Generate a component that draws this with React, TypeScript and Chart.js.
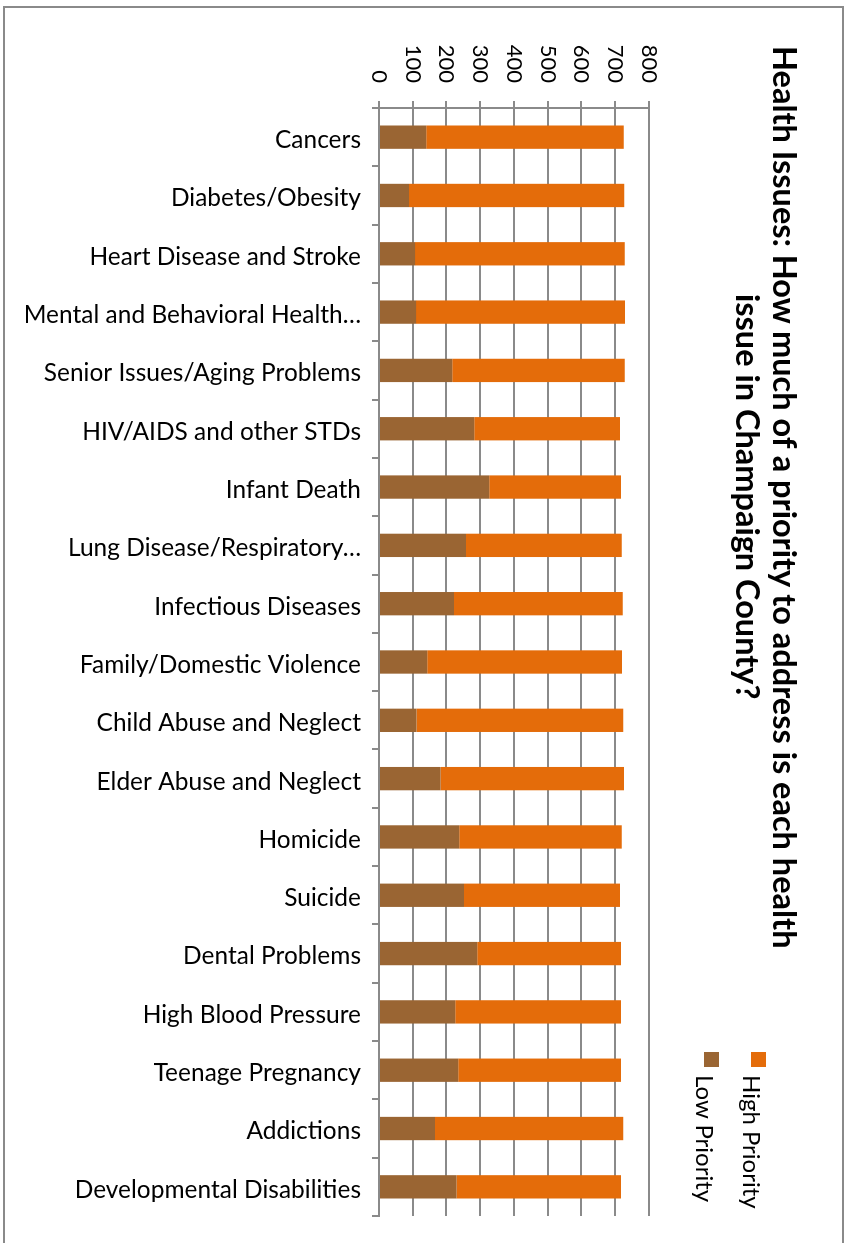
import React, { useEffect, useRef } from "react";
import { Chart, registerables } from "chart.js";

Chart.register(...registerables);

// Survey answers per health issue (number of respondents)
const categories = [
  "Cancers",
  "Diabetes/Obesity",
  "Heart Disease and Stroke",
  "Mental and Behavioral Health…",
  "Senior Issues/Aging Problems",
  "HIV/AIDS and other STDs",
  "Infant Death",
  "Lung Disease/Respiratory…",
  "Infectious Diseases",
  "Family/Domestic Violence",
  "Child Abuse and Neglect",
  "Elder Abuse and Neglect",
  "Homicide",
  "Suicide",
  "Dental Problems",
  "High Blood Pressure",
  "Teenage Pregnancy",
  "Addictions",
  "Developmental Disabilities",
];

const lowPriority = [140, 89, 107, 110, 217, 282, 327, 258, 222, 143, 111, 182, 238, 252, 291, 226, 235, 166, 230];
const highPriority = [585, 638, 621, 619, 511, 432, 390, 461, 500, 577, 613, 544, 481, 462, 426, 491, 482, 558, 487];

const seriesNames = ["Low Priority", "High Priority"];
const seriesColors = ["#9A6533", "#E46C0A"];

const axisMin = 0;
const axisMax = 800;
const axisStep = 100;

const titleLines = [
  "Health Issues: How much of a priority to address is each health",
  "issue in Champaign County?",
];

const FONT = "Lato, 'Open Sans', sans-serif";
const GRID = "#8a8a8a";

// The chart is laid out as a column chart on a landscape canvas and then
// turned a quarter turn clockwise to fill the portrait page.
const PAGE_W = 856;
const PAGE_H = 1243;

export default function App() {
  const canvasRef = useRef<HTMLCanvasElement | null>(null);

  useEffect(() => {
    const canvas = canvasRef.current;
    if (!canvas) return;
    const chart = new Chart(canvas, {
      type: "bar",
      data: {
        labels: categories,
        datasets: [
          {
            label: seriesNames[0],
            data: lowPriority,
            backgroundColor: seriesColors[0],
            barPercentage: 0.4,
            categoryPercentage: 1,
          },
          {
            label: seriesNames[1],
            data: highPriority,
            backgroundColor: seriesColors[1],
            barPercentage: 0.4,
            categoryPercentage: 1,
          },
        ],
      },
      options: {
        animation: false,
        responsive: false,
        maintainAspectRatio: false,
        devicePixelRatio: 1,
        layout: { padding: { top: 207, right: 27, bottom: 0, left: 0 } },
        plugins: {
          legend: { display: false },
          title: { display: false },
          tooltip: { enabled: false },
        },
        scales: {
          x: {
            stacked: true,
            grid: {
              display: true,
              drawOnChartArea: false,
              drawTicks: true,
              tickLength: 7,
              color: GRID,
              lineWidth: 2,
              offset: true,
            },
            border: { display: true, color: GRID, width: 2 },
            ticks: {
              autoSkip: false,
              minRotation: 90,
              maxRotation: 90,
              padding: 11,
              labelOffset: 3,
              color: "#000",
              font: { family: FONT, size: 24.5 },
            },
            afterFit: (scale: any) => {
              scale.height = 379;
            },
          },
          y: {
            stacked: true,
            min: axisMin,
            max: axisMax,
            ticks: {
              stepSize: axisStep,
              padding: 18,
              color: "#000",
              font: { family: FONT, size: 22 },
            },
            grid: { color: GRID, lineWidth: 2, tickLength: 7 },
            border: { display: true, color: GRID, width: 2 },
            afterFit: (scale: any) => {
              scale.width = 108;
            },
          },
        },
      },
    });
    return () => chart.destroy();
  }, []);

  const legendOrder = [1, 0];

  return (
    <div
      style={{
        position: "absolute",
        left: 0,
        top: 0,
        width: PAGE_W,
        height: PAGE_H,
        overflow: "hidden",
        background: "#fff",
      }}
    >
      <canvas
        ref={canvasRef}
        width={PAGE_H}
        height={PAGE_W}
        style={{
          position: "absolute",
          left: 0,
          top: 0,
          width: PAGE_H,
          height: PAGE_W,
          transformOrigin: "0 0",
          transform: `translateX(${PAGE_W}px) rotate(90deg)`,
        }}
      />
      <div
        style={{
          position: "absolute",
          left: 728,
          top: 0,
          width: 76,
          height: 994,
          writingMode: "vertical-rl",
          textAlign: "center",
          fontFamily: FONT,
          fontWeight: 700,
          fontSize: 32.5,
          lineHeight: "37px",
          color: "#000",
          whiteSpace: "nowrap",
        }}
      >
        {titleLines.map((t, i) => (
          <div key={i}>{t}</div>
        ))}
      </div>
      <div
        style={{
          position: "absolute",
          left: 680,
          top: 1052,
          width: 96,
          height: 180,
          writingMode: "vertical-rl",
          fontFamily: FONT,
          fontSize: 24,
          lineHeight: "47px",
          color: "#000",
          whiteSpace: "nowrap",
        }}
      >
        {legendOrder.map((i) => (
          <div key={i}>
            <span
              style={{
                display: "inline-block",
                width: 15,
                height: 15,
                background: seriesColors[i],
                marginBottom: 8,
                verticalAlign: "middle",
              }}
            />
            <span>{seriesNames[i]}</span>
          </div>
        ))}
      </div>
      <div
        style={{
          position: "absolute",
          left: 3,
          top: 6,
          width: 841,
          height: 1300,
          border: "2px solid #8a8a8a",
          boxSizing: "border-box",
        }}
      />
    </div>
  );
}
